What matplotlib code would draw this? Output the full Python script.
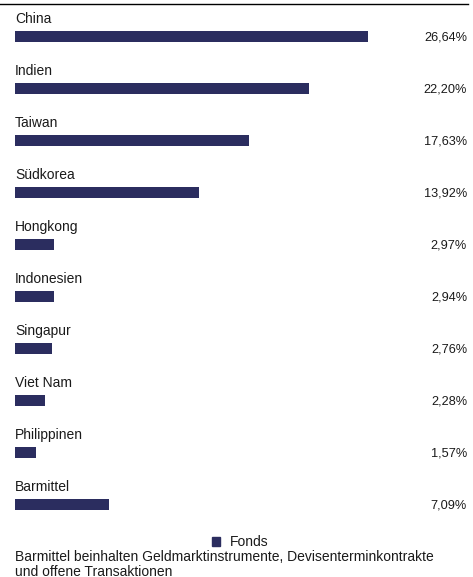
import matplotlib
matplotlib.use("Agg")
import matplotlib.pyplot as plt
from matplotlib.patches import Patch

# Länderallokation (Fonds), in %
laender = ["China", "Indien", "Taiwan", "Südkorea", "Hongkong", "Indonesien",
           "Singapur", "Viet Nam", "Philippinen", "Barmittel"]
werte = [26.64, 22.20, 17.63, 13.92, 2.97, 2.94, 2.76, 2.28, 1.57, 7.09]
beschriftung = ["26,64%", "22,20%", "17,63%", "13,92%", "2,97%", "2,94%",
                "2,76%", "2,28%", "1,57%", "7,09%"]
fussnote = ["Barmittel beinhalten Geldmarktinstrumente, Devisenterminkontrakte",
            "und offene Transaktionen"]

plt.rcParams["font.family"] = ["Liberation Sans", "DejaVu Sans"]
fs = 10
fs_val = 9.2
navy = "#2b2d5f"
txt = "#1a1a1a"

W, H = 473, 577
fig = plt.figure(figsize=(W / 100, H / 100), dpi=100)
x0 = 15
ax = fig.add_axes([x0 / W, 0, (W - x0) / W, 1])
ax.axis("off")

px_per_pct = 13.25
row = 52.0
first = 36.5
ax.set_xlim(0, (W - x0) / px_per_pct)
ax.set_ylim((H - first) / row, -first / row)

y = list(range(len(laender)))
ax.barh(y, werte, height=11 / row, color=navy)

tr = ax.get_yaxis_transform()
for i, (name, lab) in enumerate(zip(laender, beschriftung)):
    ax.text(0, i - 13.5 / row, name, fontsize=fs, color=txt, va="baseline", ha="left")
    ax.text((467 - x0) / (W - x0), i + 4.5 / row, lab, fontsize=fs_val, color=txt,
            va="baseline", ha="right", transform=tr)

# Linie oben
ax.plot([-x0 / (W - x0), (468 - x0) / (W - x0)], [-32.5 / row] * 2,
        color="black", lw=1, transform=tr, clip_on=False)

fig.legend(handles=[Patch(color=navy)], labels=["Fonds"], frameon=False,
           fontsize=fs, handlelength=0.6, handleheight=0.6, handletextpad=0.7,
           loc="center", bbox_to_anchor=(240 / W, 1 - 542 / H),
           labelcolor=txt)

fig.text(x0 / W, 1 - 561 / H, fussnote[0], fontsize=fs, color=txt, va="baseline")
# zweite Zeile ist wie im Original am unteren Rand angeschnitten
fig.text(x0 / W, 1 - 576 / H, fussnote[1], fontsize=fs, color=txt, va="baseline")

fig.savefig("out.png", dpi=100)
